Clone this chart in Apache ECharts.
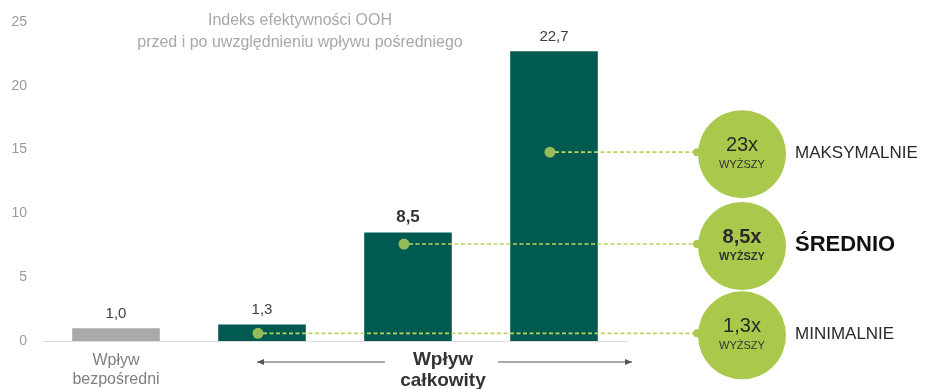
<!DOCTYPE html>
<html>
<head>
<meta charset="utf-8">
<script src="https://cdn.jsdelivr.net/npm/echarts@6/dist/echarts.min.js"></script>
<style>
html,body{margin:0;padding:0;background:#fff;}
#c{width:925px;height:389px;}
</style>
</head>
<body>
<div id="c"></div>
<script>
const categories = ['Wpływ\nbezpośredni', 'Minimalnie', 'Średnio', 'Maksymalnie'];
const values = [1.0, 1.3, 8.5, 22.7];
const markerValues = [null, 0.6, 7.6, 14.8];
const multipliers = [null, '1,3x', '8,5x', '23x'];
const levelLabels = [null, 'MINIMALNIE', 'ŚREDNIO', 'MAKSYMALNIE'];
const yTicks = [0, 5, 10, 15, 20, 25];
const titleLines = ['Indeks efektywności OOH', 'przed i po uwzględnieniu wpływu pośredniego'];
const groupLabel = 'Wpływ\ncałkowity';

const DARK = '#005a4f', GRAY = '#aaa8a8', LIME = '#a9c84c', DOT = '#b9d55e';
const FONT = '"Liberation Sans", Arial, sans-serif';

const chart = echarts.init(document.getElementById('c'), null, {renderer: 'canvas'});
const option = {
  animation: false,
  grid: {left: 43, right: 298, top: 22, bottom: 47, containLabel: false},
  title: {
    text: titleLines.join('\n'), left: 295, top: 5, textAlign: 'center',
    textStyle: {color: '#a8a8a8', fontSize: 16, fontWeight: 'normal', fontFamily: FONT, lineHeight: 22}
  },
  xAxis: {
    type: 'category', data: categories,
    axisLine: {lineStyle: {color: '#dcdcdc', width: 1}},
    axisTick: {show: false},
    axisLabel: {
      color: '#808080', fontSize: 16, fontFamily: FONT, lineHeight: 19, margin: 10,
      formatter: (v, i) => i === 0 ? v : ''
    }
  },
  yAxis: {
    type: 'value', min: 0, max: 25, interval: 5,
    axisLine: {show: false}, axisTick: {show: false}, splitLine: {show: false},
    axisLabel: {color: '#9a9a9a', fontSize: 14, fontFamily: FONT, margin: 16,
      formatter: v => yTicks.includes(v) ? String(v) : ''}
  },
  series: [
    {
      type: 'bar', barWidth: '60%',
      data: values.map((v, i) => ({
        value: v,
        itemStyle: {color: i === 0 ? GRAY : DARK},
        label: {fontWeight: i === 2 ? 'bold' : 'normal', color: i === 2 ? '#333' : '#404040',
          fontSize: i === 2 ? 17 : 15}
      })),
      label: {
        show: true, position: 'top', distance: 7, fontSize: 15, fontFamily: FONT,
        formatter: p => p.value.toFixed(1).replace('.', ',')
      },
      z: 2
    },
    {
      type: 'scatter', data: markerValues, symbolSize: 11, symbolOffset: [-4, 0],
      itemStyle: {color: DOT}, z: 5, silent: true
    }
  ]
};
chart.setOption(option);

function build() {
  const g = [];
  const circleX = 742, R = 44, lineEndX = 697;
  const grid = chart.getModel().getComponent('grid', 0).coordinateSystem.getRect();
  markerValues.forEach((mv, i) => {
    if (mv == null) return;
    const p = chart.convertToPixel({seriesIndex: 1}, [i, mv]);
    const x0 = p[0] - 4, y = p[1];
    g.push({type: 'line', z: 4, shape: {x1: x0 + 5, y1: y, x2: lineEndX, y2: y},
      style: {stroke: DOT, lineWidth: 1.6, lineDash: [4, 2.5]}});
    g.push({type: 'circle', z: 4, shape: {cx: lineEndX, cy: y, r: 4}, style: {fill: LIME}});
    g.push({type: 'circle', z: 4, shape: {cx: circleX, cy: y + 2, r: R}, style: {fill: LIME}});
    const bold = i === 2;
    g.push({type: 'text', z: 6, style: {text: multipliers[i], x: circleX, y: y - 7,
      align: 'center', verticalAlign: 'middle', fill: '#2a2a2a',
      font: (bold ? 'bold ' : '') + '20px ' + FONT}});
    g.push({type: 'text', z: 6, style: {text: 'WYŻSZY', x: circleX, y: y + 13,
      align: 'center', verticalAlign: 'middle', fill: '#333',
      font: (bold ? 'bold ' : '') + '11px ' + FONT}});
    g.push({type: 'text', z: 6, style: {text: levelLabels[i], x: 795, y: y + 1,
      align: 'left', verticalAlign: 'middle', fill: bold ? '#111' : '#2a2a2a',
      font: bold ? 'bold 22px ' + FONT : '17px ' + FONT}});
  });
  const c1 = chart.convertToPixel({gridIndex: 0}, [1, 0]);
  const c2 = chart.convertToPixel({gridIndex: 0}, [2, 0]);
  const yb = grid.y + grid.height;
  const labX = c2[0] + 35;
  g.push({type: 'text', z: 6, style: {text: groupLabel, x: labX, y: yb + 8,
    align: 'center', verticalAlign: 'top', fill: '#333', font: 'bold 19px ' + FONT, lineHeight: 21}});
  const ay = yb + 21;
  const arrow = (x1, x2) => {
    g.push({type: 'line', z: 6, shape: {x1, y1: ay, x2, y2: ay}, style: {stroke: '#555', lineWidth: 1}});
    const d = x2 > x1 ? -1 : 1;
    g.push({type: 'polygon', z: 6, shape: {points: [[x2, ay], [x2 + d * 7, ay - 3], [x2 + d * 7, ay + 3]]}, style: {fill: '#555'}});
  };
  arrow(labX - 58, c1[0] - 5);
  arrow(labX + 55, grid.x + grid.width + 5);
  chart.setOption({graphic: {elements: g}});
}
build();
</script>
</body>
</html>
